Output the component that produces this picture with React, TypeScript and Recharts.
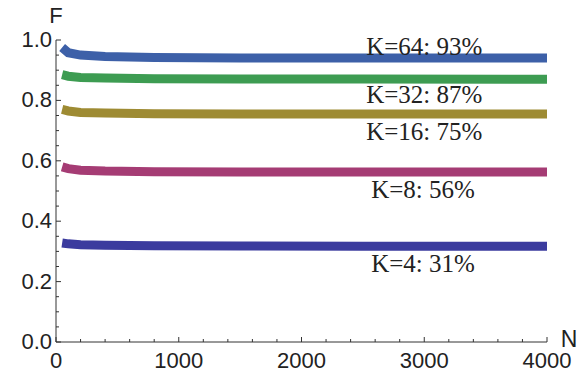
import React from 'react';
import { LineChart, Line, XAxis, YAxis, ReferenceDot, Label } from 'recharts';

// sample positions along N
const nValues = [50, 100, 200, 400, 800, 1500, 2500, 4000];

// F for each K
const k64 = [0.975, 0.958, 0.95, 0.945, 0.942, 0.94, 0.94, 0.94];
const k32 = [0.885, 0.88, 0.876, 0.874, 0.872, 0.871, 0.871, 0.87];
const k16 = [0.77, 0.765, 0.76, 0.758, 0.756, 0.755, 0.755, 0.755];
const k8 = [0.58, 0.574, 0.569, 0.566, 0.564, 0.563, 0.563, 0.563];
const k4 = [0.328, 0.325, 0.322, 0.32, 0.319, 0.318, 0.317, 0.317];

const xMajor = [0, 1000, 2000, 3000, 4000];
const xTicks = [0, 200, 400, 600, 800, 1000, 1200, 1400, 1600, 1800, 2000, 2200, 2400, 2600, 2800, 3000, 3200, 3400, 3600, 3800, 4000];
const yMajor = [0, 0.2, 0.4, 0.6, 0.8, 1.0];
const yTicks = [0, 0.05, 0.1, 0.15, 0.2, 0.25, 0.3, 0.35, 0.4, 0.45, 0.5, 0.55, 0.6, 0.65, 0.7, 0.75, 0.8, 0.85, 0.9, 0.95, 1.0];

const labels = [
  { text: 'K=64: 93%', n: 3000, f: 0.98 },
  { text: 'K=32: 87%', n: 3000, f: 0.821 },
  { text: 'K=16: 75%', n: 3000, f: 0.699 },
  { text: 'K=8: 56%', n: 2990, f: 0.507 },
  { text: 'K=4: 31%', n: 2990, f: 0.262 },
];

const series = [
  { key: 'k4', values: k4, color: '#3b3b9e' },
  { key: 'k8', values: k8, color: '#a53c74' },
  { key: 'k16', values: k16, color: '#9e8b33' },
  { key: 'k32', values: k32, color: '#3d9c52' },
  { key: 'k64', values: k64, color: '#3d60a8' },
];

const data = nValues.map((n, i) => {
  const row: Record<string, number> = { n };
  series.forEach(s => { row[s.key] = s.values[i]; });
  return row;
});

const sans = '"Liberation Sans", Arial, sans-serif';
const serif = '"Liberation Serif", "Times New Roman", serif';

const YTick = (props: any) => {
  const { x, y, payload } = props;
  const v = payload.value;
  const major = yMajor.some(m => Math.abs(m - v) < 1e-6);
  return (
    <g>
      <line x1={x} x2={x + (major ? 5 : 3)} y1={y} y2={y} stroke="#333" strokeWidth={1} />
      {major && (
        <text x={x - 4} y={y + 7} textAnchor="end" fontSize={22} fontFamily={sans} fill="#222">
          {v.toFixed(1)}
        </text>
      )}
    </g>
  );
};

const XTick = (props: any) => {
  const { x, y, payload } = props;
  const v = payload.value;
  const major = xMajor.includes(v);
  return (
    <g>
      <line x1={x} x2={x} y1={y} y2={y - (major ? 5 : 3)} stroke="#333" strokeWidth={1} />
      {major && (
        <text x={x} y={y + 26} textAnchor="middle" fontSize={22} fontFamily={sans} fill="#222">
          {v}
        </text>
      )}
    </g>
  );
};

const App: React.FC = () => {
  return (
    <div style={{ position: 'absolute', left: 0, top: 0, background: '#fff' }}>
      <LineChart width={585} height={378} data={data} margin={{ top: 40, right: 38, left: 0, bottom: 0 }}>
        <XAxis
          dataKey="n"
          type="number"
          domain={[0, 4000]}
          ticks={xTicks}
          interval={0}
          tick={<XTick />}
          tickLine={false}
          tickSize={0}
          tickMargin={0}
          height={36}
          stroke="#333"
          allowDataOverflow
        >
          <Label
            content={({ viewBox }: any) => (
              <text x={viewBox.x + viewBox.width + 22} y={viewBox.y + 5} textAnchor="middle" fontSize={23} fontFamily={sans} fill="#222">
                N
              </text>
            )}
          />
        </XAxis>
        <YAxis
          type="number"
          domain={[0, 1]}
          ticks={yTicks}
          interval={0}
          tick={<YTick />}
          tickLine={false}
          tickSize={0}
          tickMargin={0}
          width={56}
          stroke="#333"
        >
          <Label
            content={({ viewBox }: any) => (
              <text x={viewBox.x + viewBox.width} y={viewBox.y - 17} textAnchor="middle" fontSize={22} fontFamily={sans} fill="#222">
                F
              </text>
            )}
          />
        </YAxis>
        {series.map(s => (
          <Line
            key={s.key}
            dataKey={s.key}
            type="linear"
            stroke={s.color}
            strokeWidth={9}
            strokeLinecap="butt"
            dot={false}
            activeDot={false}
            isAnimationActive={false}
          />
        ))}
        {labels.map(l => (
          <ReferenceDot
            key={l.text}
            x={l.n}
            y={l.f}
            r={0}
            fill="none"
            stroke="none"
            label={{ value: l.text, position: 'center', fontSize: 25, fontFamily: serif, fill: '#222' }}
          />
        ))}
      </LineChart>
    </div>
  );
};

export default App;
